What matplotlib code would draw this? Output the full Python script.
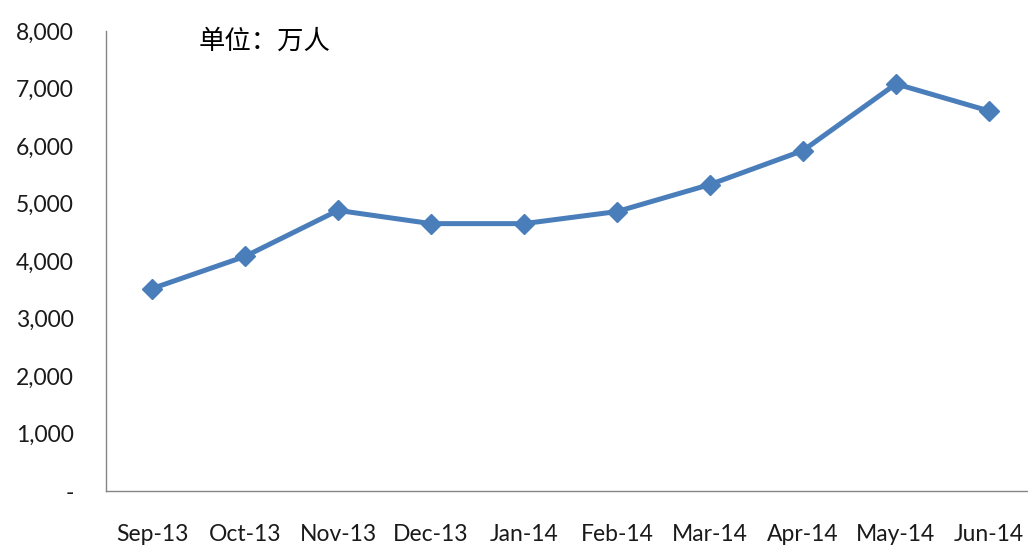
import matplotlib
matplotlib.use("Agg")
import matplotlib.pyplot as plt
import matplotlib.ticker as mticker

# Monthly series, unit: 10k persons
months = ["Sep-13", "Oct-13", "Nov-13", "Dec-13", "Jan-14",
          "Feb-14", "Mar-14", "Apr-14", "May-14", "Jun-14"]
values = [3520, 4080, 4880, 4650, 4650, 4860, 5330, 5920, 7080, 6610]
y_ticks = [0, 1000, 2000, 3000, 4000, 5000, 6000, 7000, 8000]

LINE_COLOR = "#4A7EBB"
TEXT_COLOR = "#1a1a1a"
AXIS_COLOR = "#868686"

fig = plt.figure(figsize=(10.28, 5.45), dpi=100, facecolor="white")
ax = fig.add_axes([106 / 1028, 54 / 545, 922 / 1028, 460 / 545])

x = list(range(len(months)))
ax.plot(x, values, color=LINE_COLOR, linewidth=3.6, marker="D",
        markersize=10.5, markerfacecolor=LINE_COLOR, markeredgecolor=LINE_COLOR,
        solid_joinstyle="round", zorder=3)

ax.set_xlim(-0.495, 9.42)
ax.set_ylim(0, 8000)

ax.set_yticks(y_ticks)
ax.yaxis.set_major_formatter(
    mticker.FuncFormatter(lambda v, _: "-" if v == 0 else f"{int(v):,}"))
ax.set_xticks(x)
ax.set_xticklabels(months)

for side in ("top", "right"):
    ax.spines[side].set_visible(False)
for side in ("left", "bottom"):
    ax.spines[side].set_color(AXIS_COLOR)
    ax.spines[side].set_linewidth(1.0)

ax.tick_params(axis="both", length=0, colors=TEXT_COLOR, labelsize=16.5)
ax.tick_params(axis="y", pad=23)
ax.tick_params(axis="x", pad=24)
for lab in ax.get_xticklabels() + ax.get_yticklabels():
    lab.set_fontfamily(["Lato", "DejaVu Sans"])

ax.text(199 / 1028, 1 - 41 / 545, "单位：万人", transform=fig.transFigure,
        fontsize=19, color="black", va="center", ha="left",
        family=["Noto Sans CJK SC", "DejaVu Sans"])

fig.savefig("out.png", dpi=100, facecolor="white")
